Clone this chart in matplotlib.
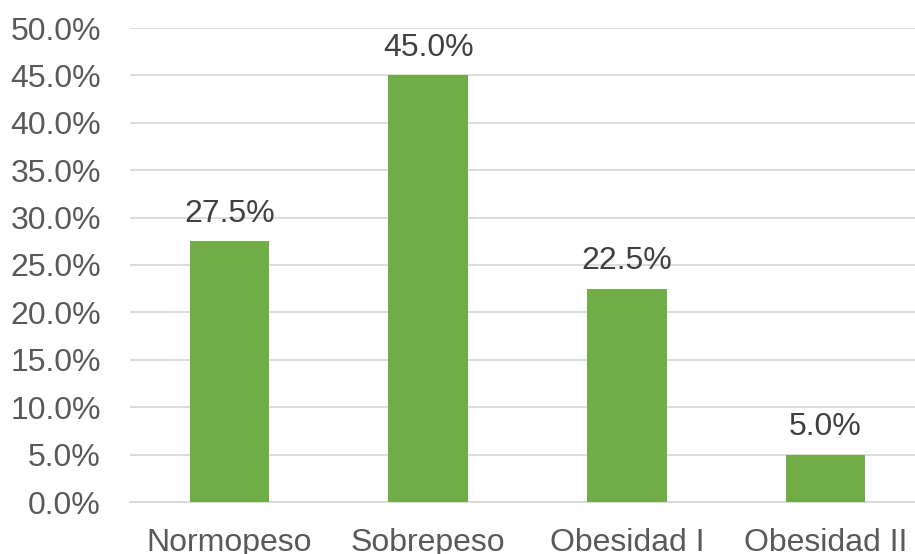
import numpy as np
import matplotlib.pyplot as plt
from matplotlib.ticker import FuncFormatter

# Data
categories = ['Normopeso', 'Sobrepeso', 'Obesidad I', 'Obesidad II']
values = [27.5, 45.0, 22.5, 5.0]

plt.rcParams['font.family'] = ['Liberation Sans', 'DejaVu Sans']

fig = plt.figure(figsize=(9.15, 5.54), dpi=100)
# plot area runs slightly past the right edge, like the cropped original
ax = fig.add_axes([130 / 915, 1 - 502 / 554, 795 / 915, 474 / 554])

x = np.arange(len(categories))
bars = ax.bar(x, values, width=0.4, color='#70AD47', zorder=3)

ax.set_xlim(-0.5, len(categories) - 0.5)
ax.set_ylim(0, 50)
ax.set_yticks(np.arange(0, 50.1, 5))
ax.yaxis.set_major_formatter(FuncFormatter(lambda v, p: f'{v:.1f}%'))
ax.set_xticks(x)
ax.set_xticklabels(categories)

ax.grid(axis='y', color='#D9D9D9', linewidth=1.3, zorder=0)
for side in ['top', 'right', 'left']:
    ax.spines[side].set_visible(False)
ax.spines['bottom'].set_color('#D9D9D9')
ax.spines['bottom'].set_linewidth(1.3)

ax.tick_params(axis='y', length=0, pad=21, labelsize=23, labelcolor='#595959')
ax.tick_params(axis='x', length=0, pad=19, labelsize=23, labelcolor='#595959')

# data labels
for xi, v in zip(x, values):
    ax.annotate(f'{v:.1f}%', (xi, v), xytext=(0, 9), textcoords='offset points',
                ha='center', va='bottom', fontsize=23, color='#404040')

fig.savefig('out.png', dpi=100)
